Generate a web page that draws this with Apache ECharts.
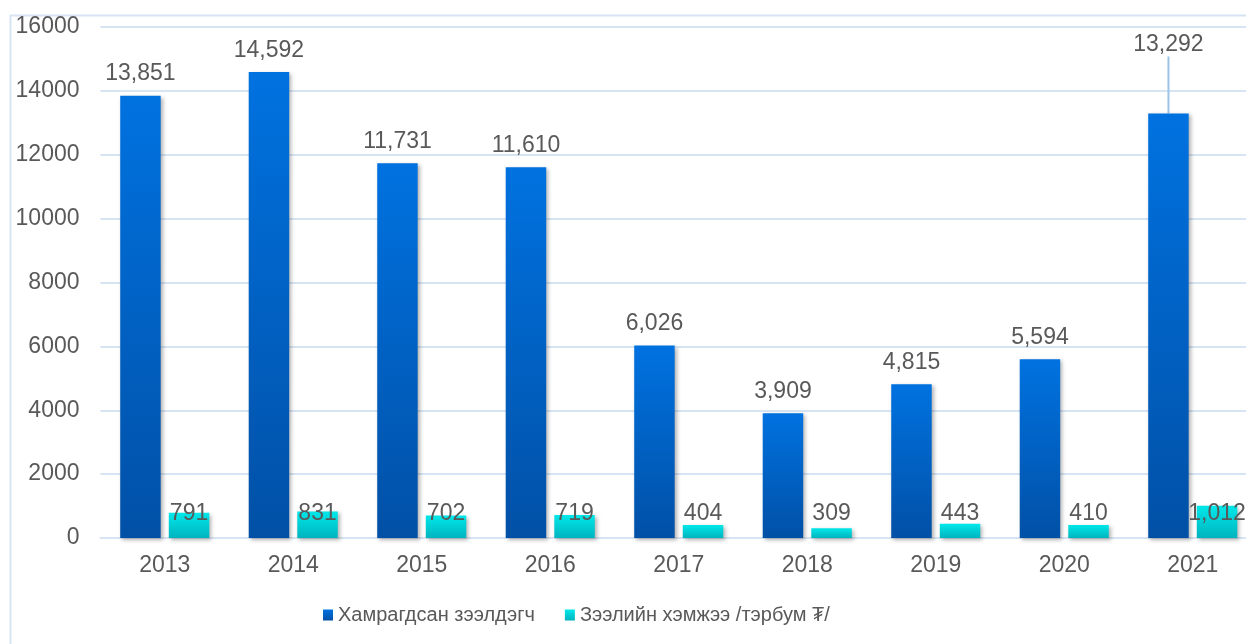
<!DOCTYPE html>
<html>
<head>
<meta charset="utf-8">
<script src="https://cdn.jsdelivr.net/npm/echarts@6/dist/echarts.min.js"></script>
<style>
  html, body { margin: 0; padding: 0; background: #fff; overflow: hidden; }
  #main { width: 1280px; height: 644px; }
</style>
</head>
<body>
<div id="main"></div>
<script>
var years = ['2013', '2014', '2015', '2016', '2017', '2018', '2019', '2020', '2021'];
var borrowers = [13851, 14592, 11731, 11610, 6026, 3909, 4815, 5594, 13292];
var loanAmount = [791, 831, 702, 719, 404, 309, 443, 410, 1012];
var seriesNames = ['Хамрагдсан зээлдэгч', 'Зээлийн хэмжээ /тэрбум ₮/'];

var chart = echarts.init(document.getElementById('main'));
var textColor = '#595959';
var font = 'Liberation Sans, Arial, sans-serif';

function fmt(p) {
  return p.value.toLocaleString('en-US');
}

// 2021 label is lifted with a leader line
var borrowerData = borrowers.map(function (v, i) {
  if (i === 8) {
    return { value: v, labelLine: { show: true, lineStyle: { color: '#9DC3E6', width: 2 } } };
  }
  return v;
});

var option = {
  animation: false,
  textStyle: { fontFamily: font },
  graphic: [{
    type: 'rect',
    left: 8, top: 13,
    shape: { width: 1400, height: 800 },
    style: { fill: 'none', stroke: '#D6E4F4', lineWidth: 2 },
    silent: true
  }],
  legend: {
    data: seriesNames,
    left: 318,
    top: 600,
    icon: 'rect',
    itemWidth: 10,
    itemHeight: 11,
    itemGap: 30,
    textStyle: { color: textColor, fontSize: 20, fontFamily: font }
  },
  grid: {
    left: 100.5,
    top: 27,
    width: 1156.5,
    bottom: 106,
    containLabel: false
  },
  xAxis: {
    type: 'category',
    data: years,
    axisLine: { lineStyle: { color: '#D6E4F4', width: 2 } },
    axisTick: { show: false },
    axisLabel: { color: textColor, fontSize: 23, margin: 16, fontFamily: font }
  },
  yAxis: {
    type: 'value',
    min: 0,
    max: 16000,
    interval: 2000,
    axisLine: { show: false },
    axisTick: { show: false },
    splitLine: { lineStyle: { color: '#D6E4F4', width: 2 } },
    axisLabel: { color: textColor, fontSize: 23, margin: 21, fontFamily: font,
      formatter: function (v) { return String(v); } }
  },
  series: [{
    name: seriesNames[0],
    type: 'bar',
    data: borrowerData,
    barWidth: '31.5%',
    barGap: '20%',
    itemStyle: {
      color: new echarts.graphic.LinearGradient(0, 0, 0, 1, [
        { offset: 0, color: '#0072E0' },
        { offset: 1, color: '#0150A6' }
      ]),
      shadowColor: 'rgba(0,0,0,0.3)',
      shadowBlur: 4,
      shadowOffsetX: 2,
      shadowOffsetY: 2
    },
    label: {
      show: true,
      position: 'top',
      distance: 10,
      color: textColor,
      fontSize: 23,
      fontFamily: font,
      formatter: fmt
    },
    labelLayout: function (params) {
      if (params.dataIndex === 8) {
        return { dy: -47 };
      }
      return {};
    }
  }, {
    name: seriesNames[1],
    type: 'bar',
    data: loanAmount,
    barWidth: '31.5%',
    itemStyle: {
      color: new echarts.graphic.LinearGradient(0, 0, 0, 1, [
        { offset: 0, color: '#00E8EA' },
        { offset: 1, color: '#00B4BE' }
      ]),
      shadowColor: 'rgba(0,0,0,0.3)',
      shadowBlur: 4,
      shadowOffsetX: 2,
      shadowOffsetY: 2
    },
    label: {
      show: true,
      position: 'insideBottom',
      distance: 13,
      color: textColor,
      fontSize: 23,
      fontFamily: font,
      formatter: fmt
    }
  }]
};

chart.setOption(option);
</script>
</body>
</html>
